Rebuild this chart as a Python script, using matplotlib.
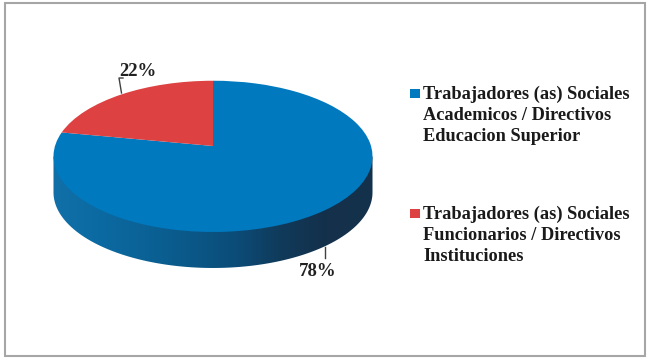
import numpy as np
import matplotlib
matplotlib.use('Agg')
import matplotlib.pyplot as plt
from matplotlib.transforms import Transform
from matplotlib.patches import Rectangle, PathPatch
from matplotlib.path import Path
from matplotlib.colors import LinearSegmentedColormap

# datos
labels = ['Trabajadores (as) Sociales\nAcademicos / Directivos\nEducacion Superior',
          'Trabajadores (as) Sociales\nFuncionarios / Directivos\nInstituciones']
values = [78, 22]
colors = ['#0079bf', '#de4141']

plt.rcParams['font.family'] = ['Liberation Serif', 'DejaVu Serif']


# perspectiva del disco: el centro queda por encima del centro de la elipse
class Persp(Transform):
    input_dims = 2
    output_dims = 2
    has_inverse = False

    def __init__(self, x0, y0, bx, ay, k):
        super().__init__()
        self.x0, self.y0, self.bx, self.ay, self.k = x0, y0, bx, ay, k

    def transform_non_affine(self, pts):
        pts = np.asarray(pts, dtype=float)
        w = 1 + self.k * pts[:, 1]
        return np.column_stack([self.x0 + self.bx * pts[:, 0] / w,
                                self.y0 - self.ay * pts[:, 1] / w])

    def transform_path_non_affine(self, path):
        return Path(self.transform_non_affine(path.vertices), path.codes)


fig = plt.figure(figsize=(6.5, 3.61), dpi=100)
ax = fig.add_axes([0, 0, 1, 1])

# marco
ax.add_patch(Rectangle((5, 3), 640, 353, fill=False, ec='#a6a6a6', lw=1.5, zorder=1))

persp = Persp(213, 146, 158, 74.2, 0.137)
depth = 36

# cuerpo lateral con degradado
t = np.linspace(0, 2 * np.pi, 361)
px = persp.transform_non_affine(np.column_stack([np.cos(t), np.sin(t)]))
left = px[:, 0].argmin()
right = px[:, 0].argmax()
lower = px[px[:, 1] >= px[left, 1] - 1]
lower = lower[np.argsort(lower[:, 0])]
side = np.vstack([px[right][None], lower[::-1] + [0, depth], px[left][None]])
side_patch = PathPatch(Path(np.vstack([side, side[0]]), closed=True), fc='none', ec='none')
ax.add_patch(side_patch)
cmap = LinearSegmentedColormap.from_list('side', ['#1170a8', '#0b6aa2', '#0b6296', '#0a5888',
                                                  '#0c4c78', '#103a5a', '#14304a', '#15324c'])
im = ax.imshow(np.linspace(0, 1, 256)[None, :], cmap=cmap, aspect='auto',
               extent=(px[left, 0], px[right, 0], px[:, 1].max() + depth, px[:, 1].min()), zorder=2)
im.set_clip_path(side_patch)

# tapa
wedges, _ = ax.pie(values, colors=colors, startangle=90, counterclock=False, radius=1)
ax.set_aspect('auto')
ax.set_xlim(0, 650)
ax.set_ylim(361, 0)
ax.axis('off')
for w in wedges:
    w.set_transform(persp + ax.transData)
    w.set_zorder(3)
    w.set_linewidth(0)

# etiquetas
ax.plot([121.5, 119, 123], [93, 78, 78], color='#404040', lw=1, zorder=4)
ax.plot([325, 325], [247, 258], color='#404040', lw=1, zorder=4)
ax.text(138, 71, f'{values[1]}%', fontsize=13.5, fontweight='bold', color='#222222', ha='center', va='center')
ax.text(318, 271, f'{values[0]}%', fontsize=13.5, fontweight='bold', color='#222222', ha='center', va='center')

# leyenda
for label, color, y in zip(labels, colors, [99, 219]):
    ax.add_patch(Rectangle((410, y - 10.5), 10, 9.5, fc=color, ec='none', zorder=3))
    for i, line in enumerate(label.split('\n')):
        ax.text(423, y + 21 * i, line, fontsize=13.2, fontweight='bold', color='#1a1a1a',
                ha='left', va='baseline')

fig.savefig('out.png', dpi=100)
